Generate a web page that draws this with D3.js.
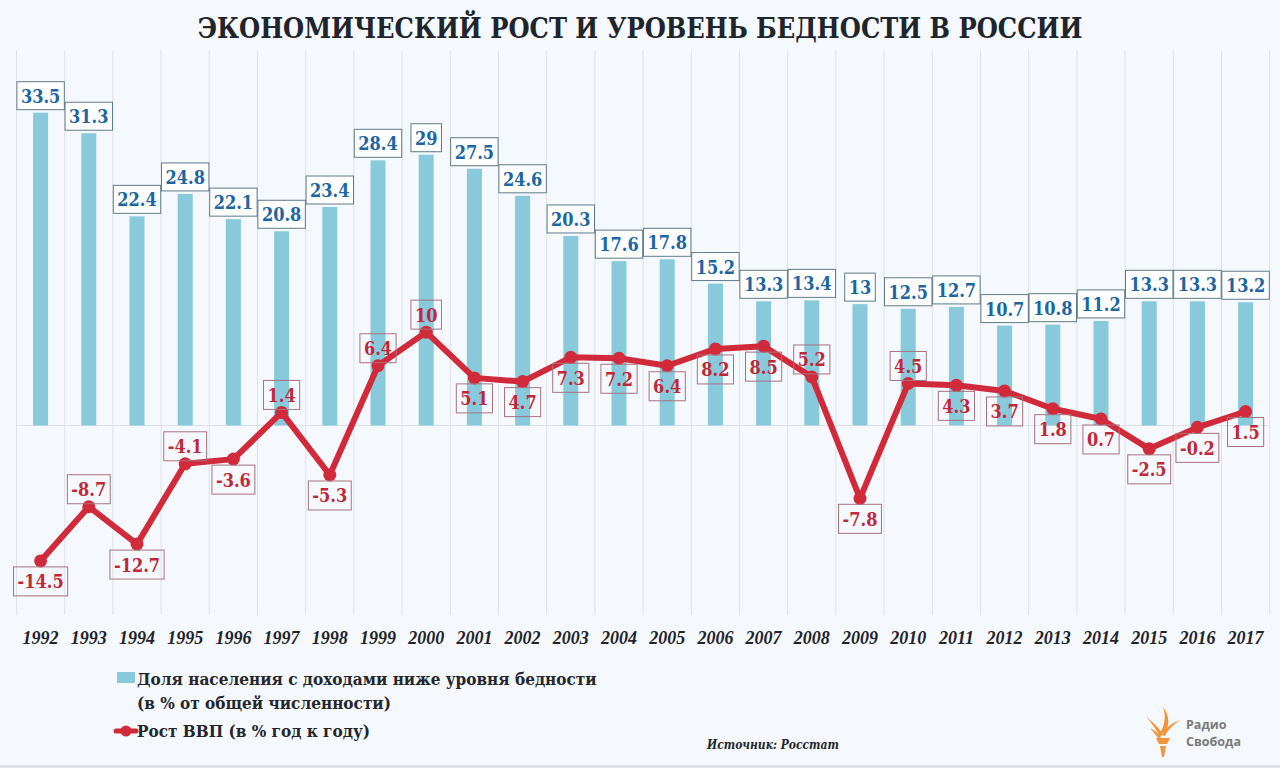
<!DOCTYPE html>
<html>
<head>
<meta charset="utf-8">
<script src="https://cdn.jsdelivr.net/npm/d3@7"></script>
<style>
  html, body { margin: 0; padding: 0; background: #f5f8fc; }
  svg { display: block; }
</style>
</head>
<body>
<svg id="chart" width="1280" height="768"></svg>
<script>
const years = ["1992","1993","1994","1995","1996","1997","1998","1999","2000","2001","2002","2003","2004","2005","2006","2007","2008","2009","2010","2011","2012","2013","2014","2015","2016","2017"];
const poverty = [33.5,31.3,22.4,24.8,22.1,20.8,23.4,28.4,29,27.5,24.6,20.3,17.6,17.8,15.2,13.3,13.4,13,12.5,12.7,10.7,10.8,11.2,13.3,13.3,13.2];
const gdp = [-14.5,-8.7,-12.7,-4.1,-3.6,1.4,-5.3,6.4,10,5.1,4.7,7.3,7.2,6.4,8.2,8.5,5.2,-7.8,4.5,4.3,3.7,1.8,0.7,-2.5,-0.2,1.5];
const gdpLabelSide = ["below","above","below","above","below","above","below","above","above","below","below","below","below","below","below","below","above","below","above","below","below","below","below","below","below","below"];

const titleText = "ЭКОНОМИЧЕСКИЙ РОСТ И УРОВЕНЬ БЕДНОСТИ В РОССИИ";
const legendPoverty = ["Доля населения с доходами ниже уровня бедности", "(в % от общей численности)"];
const legendGdp = "Рост ВВП (в % год к году)";
const sourceText = "Источник: Росстат";
const logoText = ["Радио", "Свобода"];

const svg = d3.select("#chart");
const SERIF = "'DejaVu Serif Condensed', 'DejaVu Serif', serif";

svg.append("rect").attr("width", 1280).attr("height", 768).attr("fill", "#f5f8fc");
svg.append("line").attr("x1", 0).attr("x2", 1280).attr("y1", 766.5).attr("y2", 766.5)
  .attr("stroke", "#d5dae0").attr("stroke-width", 2);

const x = d3.scaleBand().domain(years).range([16.5, 1269.7]).padding(0);
const y = d3.scaleLinear().domain([0, 33.5]).range([425.5, 112.7]);
const cx = d => x(d) + x.bandwidth() / 2;
const barW = 15;

function fit(sel, target) {
  const w = sel.node().getComputedTextLength();
  const fs = parseFloat(sel.attr("font-size"));
  sel.attr("font-size", fs * target / w);
  return fs * target / w;
}

// Title
const title = svg.append("text").attr("x", 640).attr("y", 38).attr("text-anchor", "middle")
  .attr("font-family", SERIF).attr("font-weight", "bold").attr("font-size", 30)
  .attr("fill", "#1f252d").text(titleText);
fit(title, 885);

// grid
const bounds = years.map(d => x(d)).concat([x(years[years.length - 1]) + x.bandwidth()]);
svg.append("g").selectAll("line").data(bounds).join("line")
  .attr("x1", d => d).attr("x2", d => d).attr("y1", 50).attr("y2", 615)
  .attr("stroke", "#dde2e8").attr("stroke-width", 1);
svg.append("line").attr("x1", bounds[0]).attr("x2", bounds[bounds.length - 1])
  .attr("y1", y(0)).attr("y2", y(0)).attr("stroke", "#dde2e8").attr("stroke-width", 1);

// bars
svg.append("g").selectAll("rect").data(years).join("rect")
  .attr("x", d => cx(d) - barW / 2).attr("width", barW)
  .attr("y", (d, i) => y(poverty[i])).attr("height", (d, i) => y(0) - y(poverty[i]))
  .attr("fill", "#89c9dc");

// bar labels
const bl = svg.append("g").selectAll("g").data(years).join("g");
bl.each(function(d, i) {
  const g = d3.select(this);
  const t = g.append("text").attr("x", cx(d)).attr("text-anchor", "middle")
    .attr("font-family", SERIF).attr("font-weight", "bold").attr("font-size", 18)
    .attr("fill", "#1b66a3").text(String(poverty[i]));
  const w = t.node().getComputedTextLength() + 8;
  const bottom = y(poverty[i]) - 3;
  const top = bottom - 28;
  g.insert("rect", "text").attr("x", cx(d) - w / 2).attr("y", top).attr("width", w).attr("height", 28)
    .attr("fill", "#ffffff").attr("stroke", "#5f7a8c").attr("stroke-width", 1);
  t.attr("y", top + 21);
});

// line
const line = d3.line().x((d, i) => cx(years[i])).y(d => y(d));
svg.append("path").datum(gdp).attr("d", line).attr("fill", "none")
  .attr("stroke", "#d12a3a").attr("stroke-width", 6).attr("stroke-linejoin", "round");
svg.append("g").selectAll("circle").data(gdp).join("circle")
  .attr("cx", (d, i) => cx(years[i])).attr("cy", d => y(d)).attr("r", 6.5).attr("fill", "#d12a3a");

// gdp labels
const gl = svg.append("g").selectAll("g").data(years).join("g");
gl.each(function(d, i) {
  const g = d3.select(this);
  const t = g.append("text").attr("x", cx(d)).attr("text-anchor", "middle")
    .attr("font-family", SERIF).attr("font-weight", "bold").attr("font-size", 18)
    .attr("fill", "#c0283a").text(String(gdp[i]));
  const w = t.node().getComputedTextLength() + 8;
  const py = y(gdp[i]);
  const top = gdpLabelSide[i] === "below" ? py + 6 : py - 3 - 29;
  g.insert("rect", "text").attr("x", cx(d) - w / 2).attr("y", top).attr("width", w).attr("height", 29)
    .attr("fill", "none").attr("stroke", "#a8737e").attr("stroke-width", 1);
  t.attr("y", top + 21.5);
});

// x axis labels
svg.append("g").selectAll("text").data(years).join("text")
  .attr("x", d => cx(d)).attr("y", 644).attr("text-anchor", "middle")
  .attr("font-family", "'Liberation Serif', serif").attr("font-weight", "bold").attr("font-style", "italic")
  .attr("font-size", 18).attr("fill", "#1f232a").text(d => d);

// legend
svg.append("rect").attr("x", 117).attr("y", 672).attr("width", 18).attr("height", 11).attr("fill", "#89c9dc");
const l1 = svg.append("text").attr("x", 137).attr("y", 685).attr("font-family", SERIF)
  .attr("font-weight", "bold").attr("font-size", 17).attr("fill", "#23262b").text(legendPoverty[0]);
const lfs = fit(l1, 460);
svg.append("text").attr("x", 137).attr("y", 709).attr("font-family", SERIF)
  .attr("font-weight", "bold").attr("font-size", lfs).attr("fill", "#23262b").text(legendPoverty[1]);
svg.append("line").attr("x1", 116).attr("x2", 136).attr("y1", 731).attr("y2", 731)
  .attr("stroke", "#d12a3a").attr("stroke-width", 5).attr("stroke-linecap", "round");
svg.append("circle").attr("cx", 126).attr("cy", 731).attr("r", 5.5).attr("fill", "#d12a3a");
svg.append("text").attr("x", 137).attr("y", 737).attr("font-family", SERIF)
  .attr("font-weight", "bold").attr("font-size", lfs).attr("fill", "#23262b").text(legendGdp);

// source
const src = svg.append("text").attr("x", 707).attr("y", 749).attr("font-family", SERIF)
  .attr("font-weight", "bold").attr("font-style", "italic").attr("font-size", 14)
  .attr("fill", "#23262b").text(sourceText);
fit(src, 132);

// logo
const logo = svg.append("g").attr("fill", "#f2953a");
logo.append("path").attr("d", "M1163,707 C1170,716 1170,726 1164,734 L1160,733 C1165,725 1166,716 1163,707 Z");
logo.append("path").attr("d", "M1146,716 C1152,722 1159,727 1163,735 L1160,736 C1156,729 1151,723 1146,716 Z");
logo.append("path").attr("d", "M1181,720 C1175,723 1168,729 1165,736 L1162,735 C1166,727 1173,722 1181,720 Z");
logo.append("path").attr("d", "M1150,728 C1155,731 1159,733 1161,737 L1159,739 C1156,735 1153,732 1150,728 Z");
logo.append("path").attr("d", "M1156,738 L1170,738 L1167,744 L1159,744 Z");
logo.append("path").attr("d", "M1160,746 L1166,746 L1164,757 L1162,757 Z");
svg.append("text").attr("x", 1186).attr("y", 729).attr("font-family", "'Open Sans', sans-serif")
  .attr("font-weight", "bold").attr("font-size", 12.5).attr("fill", "#7a7a7a").text(logoText[0]);
svg.append("text").attr("x", 1186).attr("y", 746).attr("font-family", "'Open Sans', sans-serif")
  .attr("font-weight", "bold").attr("font-size", 12.5).attr("fill", "#7a7a7a").text(logoText[1]);
</script>
</body>
</html>
